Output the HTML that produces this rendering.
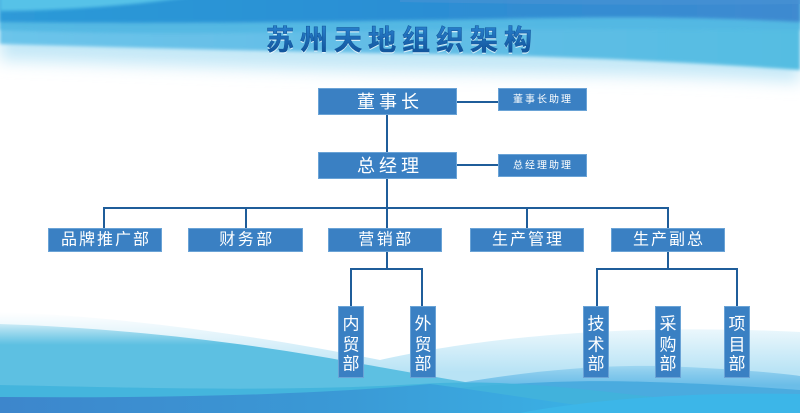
<!DOCTYPE html>
<html>
<head>
<meta charset="utf-8">
<style>
html,body{margin:0;padding:0;background:#fff;}
body{width:800px;height:413px;overflow:hidden;}
svg{display:block;}
text{font-family:"Liberation Sans","Noto Sans CJK SC","WenQuanYi Zen Hei",sans-serif;}
</style>
</head>
<body>
<svg width="800" height="413" viewBox="0 0 800 413" xmlns="http://www.w3.org/2000/svg">
<defs>
  <filter id="b8" x="-10%" y="-50%" width="120%" height="200%"><feGaussianBlur stdDeviation="8"/></filter>
  <filter id="b2" x="-10%" y="-50%" width="120%" height="200%"><feGaussianBlur stdDeviation="1.5"/></filter>
  <linearGradient id="topLight" x1="0" y1="0" x2="1" y2="0">
    <stop offset="0" stop-color="#6cc4ea"/>
    <stop offset="0.5" stop-color="#62bde6"/>
    <stop offset="1" stop-color="#55bde2"/>
  </linearGradient>
  <linearGradient id="topDark" x1="0" y1="0" x2="1" y2="0">
    <stop offset="0" stop-color="#2d9ad8"/>
    <stop offset="0.5" stop-color="#2a8fd4"/>
    <stop offset="1" stop-color="#3f8ad0"/>
  </linearGradient>
  <linearGradient id="botFade" gradientUnits="userSpaceOnUse" x1="0" y1="312" x2="0" y2="372">
    <stop offset="0" stop-color="#b8e3f5" stop-opacity="0"/>
    <stop offset="1" stop-color="#b8e3f5" stop-opacity="1"/>
  </linearGradient>
  <linearGradient id="botLight" gradientUnits="userSpaceOnUse" x1="0" y1="322" x2="0" y2="345">
    <stop offset="0" stop-color="#62c2e3" stop-opacity="0.2"/>
    <stop offset="1" stop-color="#5dc0e2" stop-opacity="1"/>
  </linearGradient>
  <linearGradient id="botRight" gradientUnits="userSpaceOnUse" x1="0" y1="360" x2="0" y2="385">
    <stop offset="0" stop-color="#6bbde8" stop-opacity="0.2"/>
    <stop offset="1" stop-color="#6bbde8" stop-opacity="1"/>
  </linearGradient>
  <linearGradient id="botDeep" x1="0" y1="0" x2="1" y2="0">
    <stop offset="0" stop-color="#3d86cc"/>
    <stop offset="0.55" stop-color="#3a9ad6"/>
    <stop offset="1" stop-color="#3ab6e8"/>
  </linearGradient>
  <linearGradient id="titleG" x1="0" y1="0" x2="0" y2="1">
    <stop offset="0" stop-color="#2a82d0"/>
    <stop offset="1" stop-color="#0e4f96"/>
  </linearGradient>
</defs>

<!-- TOP BACKGROUND -->
<path d="M0,-20 H800 V82 C680,74 540,74 420,72 C280,70 130,64 0,60 Z" fill="#c4e8f7" filter="url(#b8)"/>
<path d="M0,-20 H800 V70 C690,62 560,56 430,54 C300,52 150,48 0,44 Z" fill="url(#topLight)" filter="url(#b2)"/>
<path d="M0,-20 H800 V30 C660,30 540,28 420,30 C300,32 160,36 0,30 Z" fill="#52b8e3" opacity="0.9" filter="url(#b2)"/>
<path d="M0,-20 H800 V22 C650,14 560,18 430,20 C300,22 170,24 0,22 Z" fill="url(#topDark)" filter="url(#b2)"/>
<path d="M0,-20 H270 C190,2 90,10 0,11 Z" fill="#56c2e8" filter="url(#b2)"/>
<path d="M400,-20 H800 V4 C650,6 520,4 400,2 Z" fill="#4a93d4" opacity="0.6"/>

<!-- BOTTOM BACKGROUND -->
<path d="M0,312 C120,316 260,336 380,360 C460,342 600,322 800,332 V413 H0 Z" fill="url(#botFade)"/>
<path d="M0,324 C120,328 240,342 340,360 C420,374 470,384 520,390 V413 H0 Z" fill="url(#botLight)"/>
<path d="M380,400 C450,382 560,364 660,366 C720,368 770,372 800,376 V413 H380 Z" fill="url(#botRight)"/>
<path d="M300,410 C420,388 540,378 650,382 C720,384 770,388 800,390 V413 H300 Z" fill="#4aabdf"/>
<path d="M0,385 C150,388 280,392 420,384 C520,378 600,392 700,402 V413 H0 Z" fill="#3fb3dc" opacity="0.85"/>
<path d="M0,397 C150,398 300,396 430,384 C480,390 560,404 640,413 V420 H0 Z" fill="url(#botDeep)"/>
<path d="M520,413 C600,398 700,392 800,394 V420 H520 Z" fill="#3cb6e8"/>

<!-- TITLE -->
<text x="402" y="40" text-anchor="middle" dominant-baseline="central" font-size="28" font-weight="bold" letter-spacing="6" fill="#ffffff" opacity="0.7" transform="translate(0,1.5)">苏州天地组织架构</text>
<text x="402" y="40" text-anchor="middle" dominant-baseline="central" font-size="28" font-weight="bold" letter-spacing="6" fill="url(#titleG)" stroke="#145a9f" stroke-width="0.6">苏州天地组织架构</text>

<!-- CONNECTORS -->
<g stroke="#1f5d9a" stroke-width="2" fill="none">
  <line x1="457" y1="102" x2="498" y2="102"/>
  <line x1="387" y1="115" x2="387" y2="152"/>
  <line x1="457" y1="165" x2="498" y2="165"/>
  <line x1="387" y1="179" x2="387" y2="208"/>
  <line x1="103" y1="208" x2="669" y2="208"/>
  <line x1="104" y1="208" x2="104" y2="228"/>
  <line x1="246" y1="208" x2="246" y2="228"/>
  <line x1="387" y1="208" x2="387" y2="228"/>
  <line x1="527" y1="208" x2="527" y2="228"/>
  <line x1="668" y1="208" x2="668" y2="228"/>
  <line x1="387" y1="252" x2="387" y2="269"/>
  <line x1="350" y1="269" x2="423" y2="269"/>
  <line x1="351" y1="269" x2="351" y2="306"/>
  <line x1="422" y1="269" x2="422" y2="306"/>
  <line x1="668" y1="252" x2="668" y2="269"/>
  <line x1="596" y1="269" x2="738" y2="269"/>
  <line x1="597" y1="269" x2="597" y2="306"/>
  <line x1="737" y1="269" x2="737" y2="306"/>
</g>

<!-- BOXES -->
<g fill="#3a80c3" stroke="#6aa3d6" stroke-width="1">
  <rect x="318.5" y="88.5" width="138" height="26"/>
  <rect x="498.5" y="88.5" width="88" height="22"/>
  <rect x="318.5" y="152.5" width="138" height="26"/>
  <rect x="498.5" y="154.5" width="88" height="22"/>
  <rect x="48.5" y="228.5" width="113" height="23"/>
  <rect x="188.5" y="228.5" width="114" height="23"/>
  <rect x="328.5" y="228.5" width="113" height="23"/>
  <rect x="470.5" y="228.5" width="113" height="23"/>
  <rect x="611.5" y="228.5" width="113" height="23"/>
  <rect x="338.5" y="306.5" width="25" height="71"/>
  <rect x="410.5" y="306.5" width="25" height="71"/>
  <rect x="583.5" y="306.5" width="25" height="71"/>
  <rect x="655.5" y="306.5" width="25" height="71"/>
  <rect x="724.5" y="306.5" width="25" height="71"/>
</g>

<!-- BOX LABELS -->
<g fill="#ffffff" text-anchor="middle" dominant-baseline="central">
  <text x="390" y="102" font-size="18" letter-spacing="4">董事长</text>
  <text x="543" y="100" font-size="10" letter-spacing="2">董事长助理</text>
  <text x="390" y="166" font-size="18" letter-spacing="4">总经理</text>
  <text x="543" y="166" font-size="10" letter-spacing="2">总经理助理</text>
  <text x="106" y="240" font-size="16" letter-spacing="2">品牌推广部</text>
  <text x="247" y="240" font-size="16" letter-spacing="2.5">财务部</text>
  <text x="386" y="240" font-size="16" letter-spacing="2.5">营销部</text>
  <text x="528" y="240" font-size="16" letter-spacing="2">生产管理</text>
  <text x="669" y="240" font-size="16" letter-spacing="2">生产副总</text>
</g>
<g fill="#ffffff" text-anchor="middle" dominant-baseline="central" font-size="17">
  <text x="351" y="324">内</text><text x="351" y="345">贸</text><text x="351" y="364">部</text>
  <text x="423" y="324">外</text><text x="423" y="345">贸</text><text x="423" y="364">部</text>
  <text x="596" y="324">技</text><text x="596" y="345">术</text><text x="596" y="364">部</text>
  <text x="668" y="324">采</text><text x="668" y="345">购</text><text x="668" y="364">部</text>
  <text x="737" y="324">项</text><text x="737" y="345">目</text><text x="737" y="364">部</text>
</g>
</svg>
</body>
</html>
